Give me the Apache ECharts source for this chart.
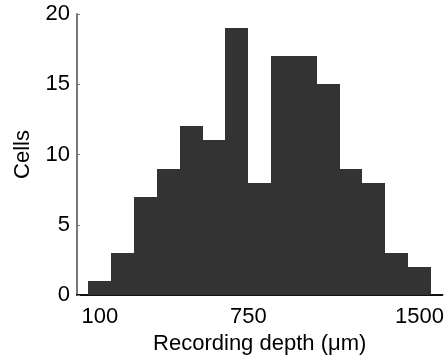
<!DOCTYPE html>
<html>
<head>
<meta charset="utf-8">
<script src="https://cdn.jsdelivr.net/npm/echarts@6/dist/echarts.min.js"></script>
<style>
  html, body { margin: 0; padding: 0; background: #fff; }
  #chart { width: 447px; height: 360px; }
</style>
</head>
<body>
<div id="chart"></div>
<script>
// histogram bins (centre depth, um) and cell counts
const binCenters = [100, 200, 300, 400, 500, 600, 700, 800, 900, 1000, 1100, 1200, 1300, 1400, 1500];
const cellCounts = [1, 3, 7, 9, 12, 11, 19, 8, 17, 17, 15, 9, 8, 3, 2];
const binWidth = 100;
const xTickLabels = [100, 750, 1500];
const yTickLabels = [0, 5, 10, 15, 20];

const chart = echarts.init(document.getElementById('chart'));

// snap bin edges to whole pixels so neighbouring bars don't leave seams
function renderBin(params, api) {
  const c = api.value(0);
  const n = api.value(1);
  const p0 = api.coord([c - binWidth / 2, n]);
  const p1 = api.coord([c + binWidth / 2, 0]);
  const x0 = Math.round(p0[0]);
  const x1 = Math.round(p1[0]);
  const y0 = Math.round(p0[1]);
  const y1 = Math.round(p1[1]);
  return {
    type: 'rect',
    shape: { x: x0, y: y0, width: x1 - x0, height: y1 - y0 },
    style: { fill: '#333333' }
  };
}

const font = 'Liberation Sans, Arial, sans-serif';

chart.setOption({
  animation: false,
  textStyle: { fontFamily: font },
  grid: { left: 77, right: 4, top: 14, bottom: 65, containLabel: false },
  xAxis: {
    type: 'value',
    min: 0,
    max: 1600,
    name: 'Recording depth (\u03bcm)',
    nameLocation: 'middle',
    nameGap: 38,
    nameTextStyle: { fontSize: 22, color: '#000', fontFamily: font },
    axisLine: { onZero: false, lineStyle: { color: '#111', width: 2 } },
    axisTick: { show: false },
    splitLine: { show: false },
    axisLabel: {
      customValues: xTickLabels,
      formatter: v => String(v),
      fontSize: 22,
      color: '#000',
      margin: 11,
      fontFamily: font
    }
  },
  yAxis: {
    type: 'value',
    min: 0,
    max: 20,
    interval: 5,
    name: 'Cells',
    nameLocation: 'middle',
    nameGap: 43,
    nameTextStyle: { fontSize: 22, color: '#000', fontFamily: font },
    axisLine: { show: true, lineStyle: { color: '#777', width: 2 } },
    axisTick: { show: true, inside: true, length: 3, lineStyle: { color: '#777', width: 1 } },
    splitLine: { show: false },
    axisLabel: {
      customValues: yTickLabels,
      fontSize: 22,
      color: '#000',
      margin: 7,
      fontFamily: font
    }
  },
  series: [{
    type: 'custom',
    renderItem: renderBin,
    encode: { x: 0, y: 1 },
    data: binCenters.map((c, i) => [c, cellCounts[i]]),
    z: 1
  }]
});
</script>
</body>
</html>
